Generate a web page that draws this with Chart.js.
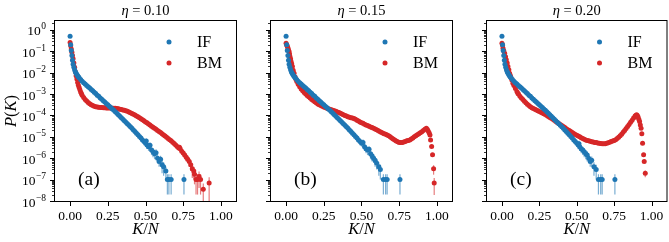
<!DOCTYPE html>
<html><head><meta charset="utf-8">
<script src="https://cdn.jsdelivr.net/npm/chart.js@4/dist/chart.umd.min.js"></script>
<style>
html,body{margin:0;padding:0;background:#fff;}
#wrap{position:relative;width:669px;height:242px;overflow:hidden;}
canvas{position:absolute;top:0;}
</style></head><body>
<div id="wrap">
<canvas id="ca" style="left:0px" width="240" height="242"></canvas>
<canvas id="cb" style="left:240px" width="216" height="242"></canvas>
<canvas id="cc" style="left:456px" width="213" height="242"></canvas>
</div>
<script>
// ---------------- data: [K/N, P(K), error] ----------------
const etaValues = ['0.10', '0.15', '0.20'];
const panelLabels = ['(a)', '(b)', '(c)'];
const seriesNames = ['IF', 'BM'];
const xTicks = [0, 0.25, 0.5, 0.75, 1.0];
const xTickLabels = ['0.00', '0.25', '0.50', '0.75', '1.00'];
const yDecades = [-8, -7, -6, -5, -4, -3, -2, -1, 0];

// IF: common body
const ifBody = [[0,0.50],[0.004,0.20],[0.008,0.11],[0.012,0.063],[0.016,0.038],[0.02,0.025],[0.025,0.018],[0.03,0.0135],[0.035,0.011],[0.04,0.0093],[0.045,0.0081],[0.05,0.0071],[0.055,0.0064],[0.06,0.00575],[0.07,0.0048],[0.08,0.0040],[0.09,0.0034],[0.10,0.00295],[0.11,0.0025],[0.12,0.00219],[0.13,0.0019],[0.14,0.00162],[0.15,0.00141],[0.16,0.0012],[0.17,0.00105],[0.18,8.9e-4],[0.19,7.8e-4],[0.20,6.6e-4],[0.21,5.75e-4],[0.22,4.9e-4],[0.23,4.27e-4],[0.24,3.63e-4],[0.25,3.16e-4],[0.26,2.7e-4],[0.27,2.34e-4],[0.28,2.0e-4],[0.29,1.74e-4],[0.30,1.48e-4],[0.31,1.26e-4],[0.32,1.07e-4],[0.33,9.1e-5],[0.34,7.8e-5],[0.35,6.6e-5],[0.36,5.6e-5],[0.37,4.8e-5],[0.38,4.1e-5],[0.39,3.5e-5],[0.40,2.95e-5],[0.41,2.5e-5],[0.42,2.1e-5],[0.43,1.78e-5],[0.44,1.48e-5],[0.45,1.26e-5],[0.46,1.05e-5],[0.47,8.7e-6],[0.48,7.2e-6],[0.49,6.0e-6]];
const ifTailA = [[0.50,5.0e-6,1.5e-6],[0.505,6.3e-6,2e-6],[0.51,4.2e-6,1.5e-6],[0.52,3.4e-6,1.2e-6],[0.53,4.0e-6,1.5e-6],[0.54,2.4e-6,1e-6],[0.55,2.0e-6,9e-7],[0.56,1.6e-6,7e-7],[0.57,1.8e-6,8e-7],[0.58,1.0e-6,4e-7],[0.59,7e-7,3e-7],[0.60,9e-7,4e-7],[0.61,5e-7,3e-7],[0.62,4e-7,2.5e-7],[0.635,2.5e-7,1.5e-7],[0.645,1e-7,8e-8],[0.655,1e-7,8e-8],[0.67,1e-7,8e-8],[0.755,1e-7,8e-8]];
const ifTailB = [[0.50,5.0e-6,1.5e-6],[0.51,5.5e-6,2e-6],[0.52,3.4e-6,1.2e-6],[0.53,2.8e-6,1.1e-6],[0.54,2.4e-6,1e-6],[0.55,2.6e-6,1e-6],[0.56,1.6e-6,7e-7],[0.57,1.3e-6,6e-7],[0.58,1.0e-6,4e-7],[0.59,8e-7,4e-7],[0.60,6e-7,3e-7],[0.615,4e-7,2.5e-7],[0.625,3e-7,2e-7],[0.645,1e-7,8e-8],[0.66,1e-7,8e-8],[0.67,1e-7,8e-8],[0.755,1e-7,8e-8]];
const ifTailC = [[0.50,5.0e-6,1.5e-6],[0.51,4.2e-6,1.6e-6],[0.515,4.8e-6,1.8e-6],[0.52,3.4e-6,1.2e-6],[0.53,2.8e-6,1.1e-6],[0.54,2.4e-6,1e-6],[0.55,2.0e-6,9e-7],[0.56,1.6e-6,7e-7],[0.57,1.4e-6,7e-7],[0.58,1.0e-6,4e-7],[0.59,7e-7,3e-7],[0.60,8e-7,4e-7],[0.615,4e-7,2.5e-7],[0.63,3e-7,2e-7],[0.645,1e-7,8e-8],[0.66,1e-7,8e-8],[0.67,1e-7,8e-8],[0.755,1e-7,8e-8]];

const bmA = [[0,0.26],[0.004,0.18],[0.008,0.126],[0.012,0.089],[0.016,0.063],[0.02,0.045],[0.025,0.028],[0.03,0.018],[0.035,0.011],[0.04,0.0071],[0.045,0.005],[0.05,0.0035],[0.055,0.0026],[0.06,0.0020],[0.065,0.0016],[0.07,0.00126],[0.075,0.00105],[0.08,8.9e-4],[0.09,6.9e-4],[0.10,5.6e-4],[0.11,4.7e-4],[0.12,4.0e-4],[0.13,3.55e-4],[0.14,3.16e-4],[0.15,2.9e-4],[0.16,2.7e-4],[0.17,2.57e-4],[0.18,2.45e-4],[0.19,2.4e-4],[0.20,2.34e-4],[0.21,2.32e-4],[0.22,2.29e-4],[0.23,2.26e-4],[0.24,2.24e-4],[0.25,2.23e-4],[0.26,2.21e-4],[0.27,2.2e-4],[0.28,2.19e-4],[0.29,2.16e-4],[0.30,2.14e-4],[0.31,2.09e-4],[0.32,2.04e-4],[0.33,1.97e-4],[0.34,1.9e-4],[0.35,1.82e-4],[0.36,1.74e-4],[0.37,1.64e-4],[0.38,1.55e-4],[0.39,1.45e-4],[0.40,1.35e-4],[0.41,1.24e-4],[0.42,1.15e-4],[0.43,1.05e-4],[0.44,9.5e-5],[0.45,8.6e-5],[0.46,7.8e-5],[0.47,7.0e-5],[0.48,6.3e-5],[0.49,5.6e-5],[0.50,5.0e-5],[0.51,4.5e-5],[0.52,4.0e-5],[0.53,3.55e-5],[0.54,3.16e-5],[0.55,2.8e-5],[0.56,2.5e-5],[0.57,2.24e-5],[0.58,2.0e-5],[0.59,1.78e-5],[0.60,1.58e-5],[0.61,1.4e-5],[0.62,1.23e-5],[0.63,1.08e-5],[0.64,9.5e-6],[0.65,8.4e-6],[0.66,7.4e-6],[0.67,6.5e-6],[0.68,5.6e-6],[0.69,4.9e-6],[0.70,4.2e-6],[0.71,3.55e-6],[0.72,3.0e-6],[0.725,3.3e-6,8e-7],[0.73,2.8e-6],[0.74,2.1e-6],[0.75,1.74e-6,5e-7],[0.76,1.4e-6,4e-7],[0.77,1.12e-6,4e-7],[0.78,8.9e-7,3e-7],[0.79,7e-7,3e-7],[0.80,5.0e-7,2.5e-7],[0.81,3.2e-7,2e-7],[0.82,2.5e-7,1.5e-7],[0.825,1.8e-7,1.2e-7],[0.835,1e-7,8e-8],[0.845,1e-7,8e-8],[0.855,1.4e-7,1e-7],[0.865,1e-7,8e-8],[0.883,3.5e-8,3e-8],[0.922,7e-8,6e-8]];
const bmB = [[0,0.24],[0.004,0.20],[0.008,0.17],[0.011,0.15],[0.015,0.125],[0.02,0.098],[0.023,0.075],[0.026,0.056],[0.03,0.043],[0.033,0.033],[0.037,0.026],[0.042,0.0195],[0.047,0.013],[0.053,0.0093],[0.06,0.0062],[0.065,0.0049],[0.071,0.0039],[0.08,0.0029],[0.09,0.0022],[0.10,0.0017],[0.11,0.00141],[0.12,0.00117],[0.13,0.0010],[0.14,8.5e-4],[0.15,7.4e-4],[0.16,6.5e-4],[0.17,5.6e-4],[0.18,5.0e-4],[0.19,4.4e-4],[0.20,3.9e-4],[0.21,3.47e-4],[0.22,3.16e-4],[0.23,2.9e-4],[0.24,2.66e-4],[0.25,2.45e-4],[0.26,2.32e-4],[0.27,2.19e-4],[0.28,2.07e-4],[0.29,1.95e-4],[0.30,1.84e-4],[0.31,1.74e-4],[0.32,1.64e-4],[0.33,1.55e-4],[0.34,1.46e-4],[0.35,1.36e-4],[0.36,1.26e-4],[0.37,1.16e-4],[0.38,1.07e-4],[0.39,1.0e-4],[0.40,9.3e-5],[0.41,8.8e-5],[0.42,8.3e-5],[0.43,7.9e-5],[0.44,7.6e-5],[0.45,7.2e-5],[0.46,6.6e-5],[0.47,6.0e-5],[0.48,5.5e-5],[0.49,5.0e-5],[0.50,4.6e-5],[0.51,4.3e-5],[0.52,3.9e-5],[0.53,3.6e-5],[0.54,3.4e-5],[0.55,3.16e-5],[0.56,2.9e-5],[0.57,2.7e-5],[0.58,2.5e-5],[0.59,2.3e-5],[0.60,2.14e-5],[0.61,1.95e-5],[0.62,1.78e-5],[0.63,1.64e-5],[0.64,1.5e-5],[0.65,1.41e-5],[0.66,1.32e-5],[0.67,1.23e-5],[0.68,1.11e-5],[0.69,1.0e-5],[0.70,8.9e-6],[0.71,7.9e-6],[0.72,7.1e-6],[0.73,6.3e-6],[0.74,5.9e-6],[0.75,5.5e-6],[0.76,5.4e-6],[0.77,5.5e-6],[0.78,5.75e-6],[0.79,6.0e-6],[0.80,6.5e-6],[0.81,6.8e-6],[0.82,7.2e-6],[0.83,8.0e-6],[0.84,8.9e-6],[0.85,1.0e-5],[0.86,1.12e-5],[0.87,1.26e-5],[0.88,1.38e-5],[0.89,1.55e-5],[0.90,1.74e-5],[0.91,1.95e-5],[0.92,2.24e-5],[0.93,2.5e-5],[0.937,2.2e-5],[0.943,1.8e-5],[0.949,1.5e-5],[0.954,1.23e-5],[0.958,7.2e-6],[0.965,3.5e-6],[0.971,1.45e-6,3e-7],[0.978,3.2e-7,1.5e-7],[0.982,6.9e-8,5e-8]];
const bmC = [[0,0.24],[0.004,0.19],[0.007,0.138],[0.012,0.107],[0.018,0.081],[0.024,0.056],[0.029,0.04],[0.035,0.028],[0.04,0.0195],[0.046,0.0135],[0.051,0.0093],[0.056,0.0074],[0.06,0.006],[0.066,0.0045],[0.073,0.0032],[0.08,0.0025],[0.09,0.0018],[0.10,0.0013],[0.106,0.0011],[0.11,0.0010],[0.12,7.9e-4],[0.13,6.5e-4],[0.14,5.5e-4],[0.15,4.6e-4],[0.16,3.9e-4],[0.17,3.3e-4],[0.18,2.9e-4],[0.19,2.57e-4],[0.20,2.29e-4],[0.21,2.09e-4],[0.22,1.95e-4],[0.23,1.8e-4],[0.24,1.64e-4],[0.25,1.51e-4],[0.26,1.4e-4],[0.27,1.29e-4],[0.28,1.19e-4],[0.29,1.1e-4],[0.30,1.0e-4],[0.31,9.0e-5],[0.32,8.1e-5],[0.33,7.3e-5],[0.34,6.6e-5],[0.35,5.9e-5],[0.36,5.2e-5],[0.37,4.7e-5],[0.38,4.2e-5],[0.39,3.76e-5],[0.40,3.4e-5],[0.41,3.0e-5],[0.42,2.7e-5],[0.43,2.4e-5],[0.44,2.16e-5],[0.45,1.95e-5],[0.46,1.76e-5],[0.47,1.58e-5],[0.48,1.43e-5],[0.49,1.29e-5],[0.50,1.19e-5],[0.51,1.1e-5],[0.52,1.0e-5],[0.53,9.1e-6],[0.54,8.3e-6],[0.55,7.8e-6],[0.56,7.2e-6],[0.57,6.8e-6],[0.58,6.5e-6],[0.59,6.2e-6],[0.60,5.9e-6],[0.61,5.7e-6],[0.62,5.5e-6],[0.63,5.4e-6],[0.64,5.2e-6],[0.65,5.0e-6],[0.66,4.9e-6],[0.67,4.8e-6],[0.68,4.7e-6],[0.69,4.8e-6],[0.70,5.0e-6],[0.71,5.3e-6],[0.72,5.6e-6],[0.73,6.0e-6],[0.74,6.3e-6],[0.75,6.8e-6],[0.76,7.4e-6],[0.77,8.3e-6],[0.78,9.5e-6],[0.79,1.12e-5],[0.80,1.32e-5],[0.81,1.62e-5],[0.82,1.95e-5],[0.83,2.45e-5],[0.84,3.0e-5],[0.85,3.8e-5],[0.86,4.8e-5],[0.87,6.0e-5],[0.88,7.6e-5],[0.89,9.3e-5],[0.895,1.0e-4],[0.90,1.07e-4],[0.905,1.0e-4],[0.91,8.5e-5],[0.915,6.6e-5],[0.92,5.2e-5],[0.925,3.6e-5],[0.93,2.5e-5],[0.935,1.4e-5],[0.94,5.0e-6],[0.947,1.45e-6],[0.951,7.1e-7],[0.958,2.0e-7,7e-8]];

// ---------------- styling ----------------
const BLUE = '#1f77b4', RED = '#d62728';
const SERIF = '"Liberation Serif", "DejaVu Serif", serif';

function drawSupLabel(ctx, exp, R, y) {
  const es = exp === 0 ? '0' : '\u2212' + Math.abs(exp);
  ctx.font = '9.5px ' + SERIF;
  const we = ctx.measureText(es).width;
  ctx.font = '13.5px ' + SERIF;
  const wb = ctx.measureText('10').width;
  ctx.textAlign = 'left'; ctx.textBaseline = 'alphabetic';
  ctx.fillText('10', R - we - wb - 0.5, y + 5.5);
  ctx.font = '9.5px ' + SERIF;
  ctx.fillText(es, R - we, y - 0.5);
}

function drawSegments(ctx, segs, cx, cy) {
  let total = 0;
  segs.forEach(s => { ctx.font = s[1]; total += ctx.measureText(s[0]).width; });
  let x = cx - total / 2;
  ctx.textAlign = 'left'; ctx.textBaseline = 'middle';
  segs.forEach(s => { ctx.font = s[1]; ctx.fillText(s[0], x, cy); x += ctx.measureText(s[0]).width; });
}

const decor = {
  id: 'decor',
  beforeDatasetsDraw(chart) {
    const ctx = chart.ctx, a = chart.chartArea;
    const xs = chart.scales.x, ys = chart.scales.y;
    ctx.save();
    ctx.beginPath(); ctx.rect(a.left, a.top, a.right - a.left, a.bottom - a.top); ctx.clip();
    chart.data.datasets.forEach(ds => {
      ctx.strokeStyle = ds.backgroundColor; ctx.globalAlpha = 0.6; ctx.lineWidth = 1.2;
      ds.data.forEach(p => {
        if (!p.e) return;
        const px = xs.getPixelForValue(p.x);
        const lo = p.y - p.e > 0 ? ys.getPixelForValue(p.y - p.e) : a.bottom + 2;
        const hi = ys.getPixelForValue(p.y + p.e);
        ctx.beginPath(); ctx.moveTo(px, lo); ctx.lineTo(px, hi); ctx.stroke();
      });
    });
    ctx.restore();
  },
  afterDraw(chart) {
    const o = chart.options.plugins.decor;
    const ctx = chart.ctx, a = chart.chartArea;
    const xs = chart.scales.x, ys = chart.scales.y;
    ctx.save();
    ctx.fillStyle = '#000'; ctx.strokeStyle = '#000';
    ctx.lineWidth = 1;
    ctx.strokeRect(a.left - 0.5, a.top - 0.5, a.right - a.left + 1, a.bottom - a.top + 1);
    xTicks.forEach((v, i) => {
      const px = Math.round(xs.getPixelForValue(v)) + 0.5;
      ctx.beginPath(); ctx.moveTo(px, a.bottom); ctx.lineTo(px, a.bottom + 5); ctx.stroke();
      ctx.font = '13.5px ' + SERIF; ctx.textAlign = 'center'; ctx.textBaseline = 'middle';
      ctx.fillText(xTickLabels[i], xs.getPixelForValue(v), a.bottom + 15);
    });
    yDecades.forEach(d => {
      for (let m = 1; m <= 9; m++) {
        const v = m * Math.pow(10, d);
        if (v < ys.min * 0.999 || v > ys.max) continue;
        const py = Math.round(ys.getPixelForValue(v)) + 0.5;
        const len = m === 1 ? 5 : 3;
        ctx.lineWidth = m === 1 ? 1 : 0.8;
        ctx.beginPath(); ctx.moveTo(a.left, py); ctx.lineTo(a.left - len, py); ctx.stroke();
      }
      if (o.showY) drawSupLabel(ctx, d, a.left - 9, ys.getPixelForValue(Math.pow(10, d)));
    });
    const cx = (a.left + a.right) / 2;
    drawSegments(ctx, [['K', 'italic 16.5px ' + SERIF], ['/', '16.5px ' + SERIF], ['N', 'italic 16.5px ' + SERIF]], cx, 230);
    if (o.showY) {
      ctx.save(); ctx.translate(12, (a.top + a.bottom) / 2); ctx.rotate(-Math.PI / 2);
      drawSegments(ctx, [['P', 'italic 16.5px ' + SERIF], ['(', '16.5px ' + SERIF], ['K', 'italic 16.5px ' + SERIF], [')', '16.5px ' + SERIF]], 0, 0);
      ctx.restore();
    }
    drawSegments(ctx, [['\u03B7', 'italic 14.5px ' + SERIF], [' = ' + etaValues[o.idx], '14.5px ' + SERIF]], cx, 11);
    chart.data.datasets.forEach((ds, i) => {
      const ly = a.top + 21 + 21 * i;
      ctx.fillStyle = ds.backgroundColor;
      ctx.beginPath(); ctx.arc(a.right - 67, ly, 2.5, 0, Math.PI * 2); ctx.fill();
      ctx.fillStyle = '#000'; ctx.font = '16px ' + SERIF; ctx.textAlign = 'left'; ctx.textBaseline = 'middle';
      ctx.fillText(seriesNames[i], a.right - 39, ly + 1);
    });
    ctx.font = '19.5px ' + SERIF; ctx.textAlign = 'left'; ctx.textBaseline = 'middle';
    ctx.fillText(panelLabels[o.idx], a.left + 23, 180);
    ctx.restore();
  }
};

function makeChart(id, idx, ifData, bmData, showY, yAxisW, padRight) {
  const ds = (name, data, color) => ({
    label: name,
    data: data.map(d => ({ x: d[0], y: d[1], e: d[2] || 0 })),
    backgroundColor: color, borderColor: color,
    pointRadius: 2.5, pointBorderWidth: 0, pointHoverRadius: 2.5, showLine: false
  });
  return new Chart(document.getElementById(id), {
    type: 'scatter',
    data: { datasets: [ds(seriesNames[0], ifData, BLUE), ds(seriesNames[1], bmData, RED)] },
    options: {
      responsive: false, animation: false, devicePixelRatio: 1,
      layout: { padding: { top: 21, right: padRight, left: 0, bottom: 0 } },
      plugins: { legend: { display: false }, tooltip: { enabled: false }, decor: { idx: idx, showY: showY } },
      scales: {
        x: { type: 'linear', min: -0.1, max: 1.1, grid: { display: false }, border: { display: false },
             ticks: { display: false }, afterFit: s => { s.height = 41; } },
        y: { type: 'logarithmic', min: 1e-8, max: 2.6, grid: { display: false }, border: { display: false },
             ticks: { display: false }, afterFit: s => { s.width = yAxisW; } }
      }
    },
    plugins: [decor]
  });
}

makeChart('ca', 0, ifBody.concat(ifTailA), bmA, true, 55, 4);
makeChart('cb', 1, ifBody.concat(ifTailB), bmB, false, 31, 4);
makeChart('cc', 2, ifBody.concat(ifTailC), bmC, false, 31, 1);
</script>
</body></html>
